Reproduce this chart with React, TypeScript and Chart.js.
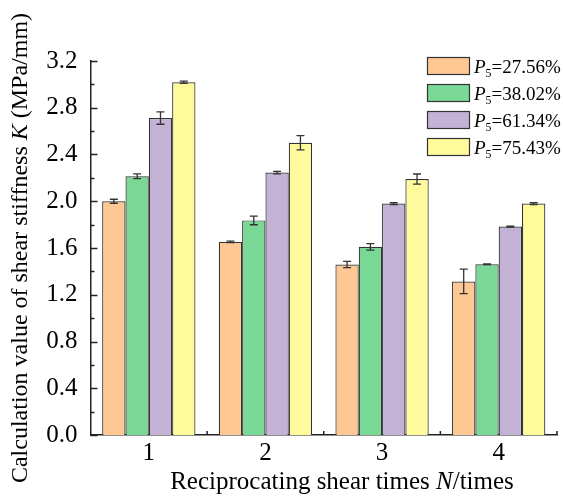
import React, { useEffect, useRef } from "react";
import { Chart, registerables } from "chart.js";

Chart.register(...registerables);

const categories = ["1", "2", "3", "4"];
const seriesLabels = ["27.56%", "38.02%", "61.34%", "75.43%"];
const s1Values = [2.0, 1.652, 1.459, 1.314];
const s2Values = [2.214, 1.836, 1.61, 1.461];
const s3Values = [2.712, 2.245, 1.98, 1.783];
const s4Values = [3.018, 2.5, 2.19, 1.98];
const s1Errors = [0.017, 0.006, 0.027, 0.105];
const s2Errors = [0.02, 0.037, 0.028, 0.003];
const s3Errors = [0.053, 0.01, 0.008, 0.005];
const s4Errors = [0.01, 0.061, 0.043, 0.008];
const yTicks = [0, 0.4, 0.8, 1.2, 1.6, 2.0, 2.4, 2.8, 3.2];

const fills = ["#FEC894", "#7AD897", "#C4B2D6", "#FFFA9B"];
const FONT = "'Liberation Serif', 'Times New Roman', serif";
const INK = "#333333";

type Part = { t: string; it?: boolean; sub?: boolean };

function richWidth(ctx: CanvasRenderingContext2D, parts: Part[], size: number) {
  let w = 0;
  for (const p of parts) {
    const s = p.sub ? size * 0.62 : size;
    ctx.font = `${p.it ? "italic " : ""}${s}px ${FONT}`;
    w += ctx.measureText(p.t).width;
  }
  return w;
}

function drawRich(
  ctx: CanvasRenderingContext2D,
  parts: Part[],
  x: number,
  y: number,
  size: number,
  align: "left" | "center"
) {
  const total = richWidth(ctx, parts, size);
  let cx = align === "center" ? x - total / 2 : x;
  ctx.textBaseline = "alphabetic";
  ctx.textAlign = "left";
  ctx.fillStyle = "#000";
  for (const p of parts) {
    const s = p.sub ? size * 0.62 : size;
    ctx.font = `${p.it ? "italic " : ""}${s}px ${FONT}`;
    ctx.fillText(p.t, cx, p.sub ? y + size * 0.22 : y);
    cx += ctx.measureText(p.t).width;
  }
}

const errors = [s1Errors, s2Errors, s3Errors, s4Errors];

const decorPlugin = {
  id: "decor",
  afterDatasetsDraw(chart: any) {
    const ctx: CanvasRenderingContext2D = chart.ctx;
    const y = chart.scales.y;
    ctx.save();
    ctx.strokeStyle = INK;
    ctx.lineWidth = 1.3;
    chart.data.datasets.forEach((ds: any, di: number) => {
      const meta = chart.getDatasetMeta(di);
      meta.data.forEach((bar: any, i: number) => {
        const v = ds.data[i];
        const e = errors[di][i];
        const yt = y.getPixelForValue(v + e);
        const yb = y.getPixelForValue(v - e);
        const cap = 4;
        ctx.beginPath();
        ctx.moveTo(bar.x, yt);
        ctx.lineTo(bar.x, yb);
        ctx.moveTo(bar.x - cap, yt);
        ctx.lineTo(bar.x + cap, yt);
        ctx.moveTo(bar.x - cap, yb);
        ctx.lineTo(bar.x + cap, yb);
        ctx.stroke();
      });
    });
    ctx.restore();
  },
  afterDraw(chart: any) {
    const ctx: CanvasRenderingContext2D = chart.ctx;
    const area = chart.chartArea;
    const y = chart.scales.y;
    const x = chart.scales.x;
    ctx.save();
    ctx.strokeStyle = "#222";
    ctx.lineWidth = 1.5;
    for (let k = 0; k <= 16; k++) {
      const v = k * 0.2;
      const py = Math.round(y.getPixelForValue(v)) + 0.5;
      const len = k % 2 === 0 ? 7 : 4;
      ctx.beginPath();
      ctx.moveTo(area.left, py);
      ctx.lineTo(area.left + len, py);
      ctx.stroke();
    }
    const n = categories.length;
    for (let i = 0; i < n; i++) {
      const px =
        i < n - 1
          ? (x.getPixelForValue(i) + x.getPixelForValue(i + 1)) / 2
          : area.right;
      ctx.beginPath();
      ctx.moveTo(px, area.bottom);
      ctx.lineTo(px, area.bottom - 4);
      ctx.stroke();
    }
    ctx.restore();

    ctx.save();
    drawRich(
      ctx,
      [{ t: "Reciprocating shear times " }, { t: "N", it: true }, { t: "/times" }],
      342,
      489,
      25,
      "center"
    );
    ctx.translate(27, (area.top + area.bottom) / 2);
    ctx.rotate(-Math.PI / 2);
    drawRich(
      ctx,
      [
        { t: "Calculation value of shear stiffness " },
        { t: "K", it: true },
        { t: " (MPa/mm)" },
      ],
      0,
      0,
      24,
      "center"
    );
    ctx.restore();

    ctx.save();
    const rows = [66, 93, 120, 147];
    rows.forEach((cy, i) => {
      ctx.fillStyle = fills[i];
      ctx.fillRect(427.5, cy - 8.5, 42, 17);
      ctx.strokeStyle = INK;
      ctx.lineWidth = 1.2;
      ctx.strokeRect(427.5, cy - 8.5, 42, 17);
      drawRich(
        ctx,
        [{ t: "P", it: true }, { t: "5", sub: true }, { t: "=" + seriesLabels[i] }],
        474,
        cy + 7,
        19,
        "left"
      );
    });
    ctx.restore();
  },
};

export default function App() {
  const ref = useRef<HTMLCanvasElement | null>(null);
  useEffect(() => {
    document.body.style.margin = "0";
    const canvas = ref.current!;
    const values = [s1Values, s2Values, s3Values, s4Values];
    const chart = new Chart(canvas, {
      type: "bar",
      data: {
        labels: categories,
        datasets: values.map((vals, i) => ({
          label: "P5=" + seriesLabels[i],
          data: vals,
          backgroundColor: fills[i],
          borderColor: INK,
          borderWidth: 1.2,
          borderSkipped: "bottom",
          categoryPercentage: 0.8,
          barPercentage: 1.0,
        })),
      },
      options: {
        responsive: false,
        animation: false,
        maintainAspectRatio: false,
        layout: { padding: { top: 61, right: 6, left: 0, bottom: 0 } },
        plugins: {
          legend: { display: false },
          tooltip: { enabled: false },
        },
        scales: {
          x: {
            grid: { display: false },
            border: { display: true, color: "#222", width: 1.5 },
            ticks: {
              color: "#000",
              font: { family: FONT, size: 25 },
              padding: -5,
            },
            afterFit: (s: any) => {
              s.height = 62;
            },
          },
          y: {
            min: 0,
            max: 3.2,
            afterBuildTicks: (s: any) => {
              s.ticks = yTicks.map((v) => ({ value: v }));
            },
            grid: { display: false },
            border: { display: true, color: "#222", width: 1.5 },
            ticks: {
              color: "#000",
              font: { family: FONT, size: 25 },
              padding: 5,
              callback: (v: any) => Number(v).toFixed(1),
            },
            afterFit: (s: any) => {
              s.width = 90.5;
            },
          },
        },
      },
      plugins: [decorPlugin],
    });
    return () => chart.destroy();
  }, []);
  return (
    <div style={{ position: "absolute", left: 0, top: 0, width: 563, height: 497 }}>
      <canvas ref={ref} width={563} height={497} style={{ display: "block" }} />
    </div>
  );
}
